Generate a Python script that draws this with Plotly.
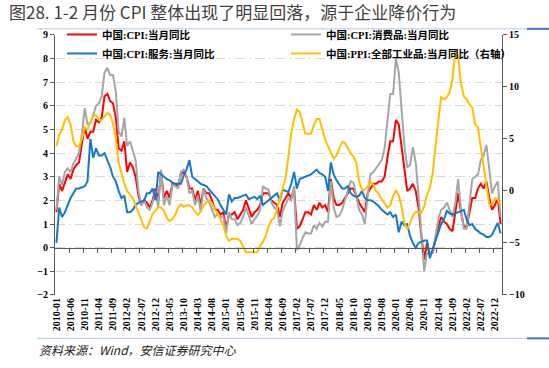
import plotly.graph_objects as go

# ---------------- data ----------------
MONTHS = [f"{y}-{m:02d}" for y in range(2010, 2024) for m in range(1, 13)][:158]

TICK_LABELS = ["2010-01", "2010-06", "2010-11", "2011-04", "2011-09", "2012-02", "2012-07",
               "2012-12", "2013-05", "2013-10", "2014-03", "2014-08", "2015-01", "2015-06",
               "2015-11", "2016-04", "2016-09", "2017-02", "2017-07", "2017-12", "2018-05",
               "2018-10", "2019-03", "2019-08", "2020-01", "2020-06", "2020-11", "2021-04",
               "2021-09", "2022-02", "2022-07", "2022-12"]

CPI = [1.5, 2.7, 2.4, 2.8, 3.1, 2.9, 3.3, 3.5, 3.6, 4.4, 5.1, 4.6,
       4.9, 4.9, 5.4, 5.3, 5.5, 6.4, 6.5, 6.2, 6.1, 5.5, 4.2, 4.1,
       4.5, 3.2, 3.6, 3.4, 3.0, 2.2, 1.8, 2.0, 1.9, 1.7, 2.0, 2.5,
       2.0, 3.2, 2.1, 2.4, 2.1, 2.7, 2.7, 2.6, 3.1, 3.2, 3.0, 2.5,
       2.5, 2.0, 2.4, 1.8, 2.5, 2.3, 2.3, 2.0, 1.6, 1.6, 1.4, 1.5,
       0.8, 1.4, 1.4, 1.5, 1.2, 1.4, 1.6, 2.0, 1.6, 1.3, 1.5, 1.6,
       1.8, 2.3, 2.3, 2.3, 2.0, 1.9, 1.8, 1.3, 1.9, 2.1, 2.3, 2.1,
       2.5, 0.8, 0.9, 1.2, 1.5, 1.5, 1.4, 1.8, 1.6, 1.9, 1.7, 1.8,
       1.5, 2.9, 2.1, 1.8, 1.8, 1.9, 2.1, 2.3, 2.5, 2.5, 2.2, 1.9,
       1.7, 1.5, 2.3, 2.5, 2.7, 2.7, 2.8, 2.8, 3.0, 3.8, 4.5, 4.5,
       5.4, 5.2, 4.3, 3.3, 2.4, 2.5, 2.7, 2.4, 1.7, 0.5, -0.5, 0.2,
       -0.3, -0.2, 0.4, 0.9, 1.3, 1.1, 1.0, 0.8, 0.7, 1.5, 2.3, 1.5,
       0.9, 0.9, 1.5, 2.1, 2.1, 2.5, 2.7, 2.5, 2.8, 2.1, 1.6, 1.8,
       2.1, 1.0]

CPI_GOODS = [1.6, 3.0, 2.65, 3.2, 3.35, 3.2, 3.55, 3.75, 4.0, 4.8, 5.9, 5.2,
             5.3, 5.6, 6.0, 6.1, 6.4, 7.4, 7.6, 7.3, 7.3, 6.6, 4.9, 4.7,
             5.5, 4.3, 4.5, 4.1, 3.7, 2.4, 1.8, 2.0, 1.7, 1.6, 1.9, 2.4,
             1.7, 3.3, 1.8, 2.2, 1.8, 2.65, 2.6, 2.5, 3.2, 3.3, 3.0, 2.3,
             2.4, 1.8, 2.2, 1.5, 2.5, 2.1, 1.9, 1.6, 1.3, 1.45, 1.3, 1.3,
             0.6, 1.5, 1.2, 1.2, 0.95, 1.05, 1.3, 1.7, 1.3, 1.0, 1.2, 1.35,
             1.6, 2.6, 2.5, 2.45, 1.9, 1.7, 1.6, 0.9, 1.55, 1.8, 2.1, 2.0,
             2.6, -0.1, 0.1, 0.4, 0.65, 0.6, 0.6, 0.95, 0.8, 1.05, 0.9, 1.1,
             1.1, 2.8, 1.7, 1.3, 1.35, 1.6, 2.0, 2.4, 2.8, 2.75, 2.2, 1.6,
             1.4, 1.0, 2.2, 3.1, 3.2, 3.35, 3.5, 3.7, 4.2, 5.3, 6.5, 6.5,
             8.0, 7.4, 5.9, 4.3, 3.4, 3.5, 4.25, 3.6, 2.2, 0.6, -1.0, -0.2,
             -0.3, -0.2, 0.5, 1.2, 1.6, 1.7, 1.9, 1.6, 1.3, 1.9, 2.9, 1.6,
             0.8, 0.8, 1.8, 2.9, 3.0, 3.1, 3.7, 3.9, 4.35, 3.2, 2.3, 2.6,
             2.8, 1.3]

CPI_SERVICES = [0.2, 1.7, 1.3, 1.5, 1.8, 2.1, 2.3, 2.5, 2.5, 2.55, 2.6, 2.8,
                4.6, 3.8, 4.2, 3.9, 3.9, 4.0, 3.7, 3.4, 3.0, 2.8, 2.4, 2.1,
                2.2, 1.5, 1.5, 1.6, 1.8, 1.9, 1.95, 2.0, 2.3, 2.3, 2.5, 2.0,
                3.2, 3.1, 3.0, 2.9, 2.85, 2.75, 2.7, 2.7, 2.7, 3.05, 3.3, 3.7,
                3.0, 2.9, 2.8, 2.7, 2.65, 2.6, 2.45, 2.3, 2.2, 2.05, 1.8, 1.6,
                1.4, 2.25, 1.95, 2.1, 2.1, 2.15, 2.2, 2.25, 2.05, 2.1, 2.15, 2.05,
                2.2, 1.8, 1.9, 2.0, 2.1, 2.2, 2.3, 2.0, 2.45, 2.4, 2.35, 2.7,
                3.2, 2.5, 2.9, 2.95, 3.0, 3.05, 3.1, 3.2, 3.3, 3.15, 3.1, 3.0,
                2.4, 3.6, 3.1, 2.85, 2.7, 2.5, 2.5, 2.6, 2.3, 2.2, 2.15, 2.2,
                2.4, 2.1, 2.0, 2.0, 1.95, 1.85, 1.75, 1.6, 1.5, 1.4, 1.5, 1.3,
                1.4, 0.65, 1.1, 0.95, 1.0, 0.5, 0.2, 0.0, 0.2, 0.25, 0.3, 0.3,
                -0.45, -0.05, 0.3, 0.7, 1.0, 1.2, 1.55, 1.45, 1.4, 1.45, 1.5, 1.55,
                1.6, 1.2, 0.95, 1.0, 0.8, 0.7, 0.6, 0.55, 0.45, 0.45, 0.55, 0.8,
                1.05, 0.6]

PPI = [4.3, 5.4, 5.9, 6.8, 7.1, 6.4, 4.8, 4.3, 4.3, 5.0, 6.1, 5.9,
       6.6, 7.2, 7.3, 6.8, 6.8, 7.1, 7.5, 7.3, 6.5, 5.0, 2.7, 1.7,
       0.7, 0.0, -0.3, -0.7, -1.4, -2.1, -2.9, -3.5, -3.6, -2.8, -2.2, -1.9,
       -1.6, -1.6, -1.9, -2.6, -2.9, -2.7, -2.3, -1.6, -1.3, -1.5, -1.4, -1.4,
       -1.6, -2.0, -2.3, -2.0, -1.4, -1.1, -0.9, -1.2, -1.8, -2.2, -2.7, -3.3,
       -4.3, -4.8, -4.6, -4.6, -4.6, -4.8, -5.4, -5.9, -5.9, -5.9, -5.9, -5.9,
       -5.3, -4.9, -4.3, -3.4, -2.8, -2.6, -1.7, -0.8, 0.1, 1.2, 3.3, 5.5,
       6.9, 7.8, 7.6, 6.4, 5.5, 5.5, 5.5, 6.3, 6.9, 6.9, 5.8, 4.9,
       4.3, 3.7, 3.1, 3.4, 4.1, 4.7, 4.6, 4.1, 3.6, 3.3, 2.7, 0.9,
       0.1, 0.1, 0.4, 0.9, 0.6, 0.0, -0.3, -0.8, -1.2, -1.6, -1.4, -0.5,
       0.1, -0.4, -1.5, -3.1, -3.7, -3.0, -2.4, -2.0, -2.1, -2.1, -1.5, -0.4,
       0.3, 1.7, 4.4, 6.8, 9.0, 8.8, 9.0, 9.5, 10.7, 13.5, 12.9, 10.3,
       9.1, 8.8, 8.3, 8.0, 6.4, 6.1, 4.2, 2.3, 0.9, -1.3, -1.3, -0.7,
       -0.8, -1.4]

NAMES = ["中国:CPI:当月同比", "中国:CPI:消费品:当月同比",
         "中国:CPI:服务:当月同比", "中国:PPI:全部工业品:当月同比（右轴）"]
COLORS = ["#FF0000", "#A6A6A6", "#1479C8", "#FFC000"]

TITLE = "图28. 1-2 月份 CPI 整体出现了明显回落，源于企业降价行为"
SOURCE = "资料来源：Wind，安信证券研究中心"

# ---------------- figure ----------------
W, H = 549, 368
ML, MR, MT, MB = 55, 47, 14, 73
PLOT_TOP = 31                     # pixel top of the axes area
PW, PH = W - ML - MR, H - MT - MB
Y_DOMAIN_TOP = (H - MB - PLOT_TOP) / PH


def px_x(x):
    return (x - ML) / PW


def px_y(y):
    return (H - MB - y) / PH


SERIF = "Liberation Serif, Noto Sans CJK SC, serif"
AX = "#595959"

fig = go.Figure()
series = [CPI, CPI_GOODS, CPI_SERVICES, PPI]
axes = ["y", "y", "y", "y2"]
for name, vals, col, ya in zip(NAMES, series, COLORS, axes):
    fig.add_trace(go.Scatter(x=MONTHS, y=vals, name=name, mode="lines",
                             line=dict(color=col, width=2), yaxis=ya,
                             hoverinfo="skip"))

# helper trace for the zero-line axis
fig.add_trace(go.Scatter(x=[None], y=[None], xaxis="x2", yaxis="y",
                         showlegend=False, hoverinfo="skip", mode="lines"))

fig.update_layout(
    width=W, height=H,
    margin=dict(l=ML, r=MR, t=MT, b=MB),
    paper_bgcolor="white", plot_bgcolor="white",
    title=dict(text=TITLE, x=9 / W, xanchor="left", xref="container",
               y=1 - 13 / H, yanchor="middle", yref="container",
               font=dict(family="Noto Sans CJK SC", size=17, color="#404040")),
    xaxis=dict(type="category", range=[-0.5, 157.5], tickmode="array",
               tickvals=TICK_LABELS, ticktext=TICK_LABELS, tickangle=-90,
               showgrid=False, showline=False, ticks="", zeroline=False,
               tickfont=dict(family=SERIF, size=10, color="#000", weight="bold")),
    xaxis2=dict(type="linear", overlaying="x", anchor="free",
                position=px_y(247),
                range=[-0.5, 157.5], tickmode="array",
                tickvals=[-0.5 + 5 * k for k in range(1, 32)],
                ticks="outside", ticklen=4, tickcolor=AX, showticklabels=False,
                showline=True, linecolor=AX, linewidth=1, showgrid=False,
                zeroline=False),
    yaxis=dict(range=[-2, 9], dtick=1, domain=[0, Y_DOMAIN_TOP],
               showgrid=True, gridcolor="#D9D9D9",
               griddash="10px,4px,2px,4px", gridwidth=1,
               showline=True, linecolor=AX, linewidth=1, ticks="outside",
               ticklen=4, tickcolor=AX, zeroline=False,
               tickfont=dict(family=SERIF, size=10, color="#000", weight="bold")),
    yaxis2=dict(range=[-10, 15], dtick=5, overlaying="y", side="right",
                showgrid=False, showline=True, linecolor=AX, linewidth=1,
                ticks="outside", ticklen=4, tickcolor=AX, zeroline=False,
                tickfont=dict(family=SERIF, size=10, color="#000", weight="bold")),
    legend=dict(orientation="h", x=px_x(62), y=px_y(16), xanchor="left",
                yanchor="top", entrywidth=179, entrywidthmode="pixels",
                bgcolor="rgba(0,0,0,0)", tracegroupgap=0,
                font=dict(family=SERIF, size=10.5, color="#000", weight="bold")),
    showlegend=True,
)

# header & footer rules
for ypix in (25, 339):
    fig.add_shape(type="line", xref="paper", yref="paper",
                  x0=px_x(37), x1=px_x(527), y0=px_y(ypix), y1=px_y(ypix),
                  line=dict(color="#B4C6E7", width=1))
    fig.add_shape(type="line", xref="paper", yref="paper",
                  x0=px_x(527), x1=px_x(549), y0=px_y(ypix), y1=px_y(ypix),
                  line=dict(color="#4472C4", width=2))

fig.add_annotation(text=SOURCE, xref="paper", yref="paper",
                   x=px_x(37), y=px_y(350), xanchor="left", yanchor="middle",
                   showarrow=False,
                   font=dict(family="Noto Sans CJK SC", size=12, color="#222",
                             style="italic"))

fig.write_html("out.html", config={"displayModeBar": False},
               post_script="document.body.style.margin='0px';")
